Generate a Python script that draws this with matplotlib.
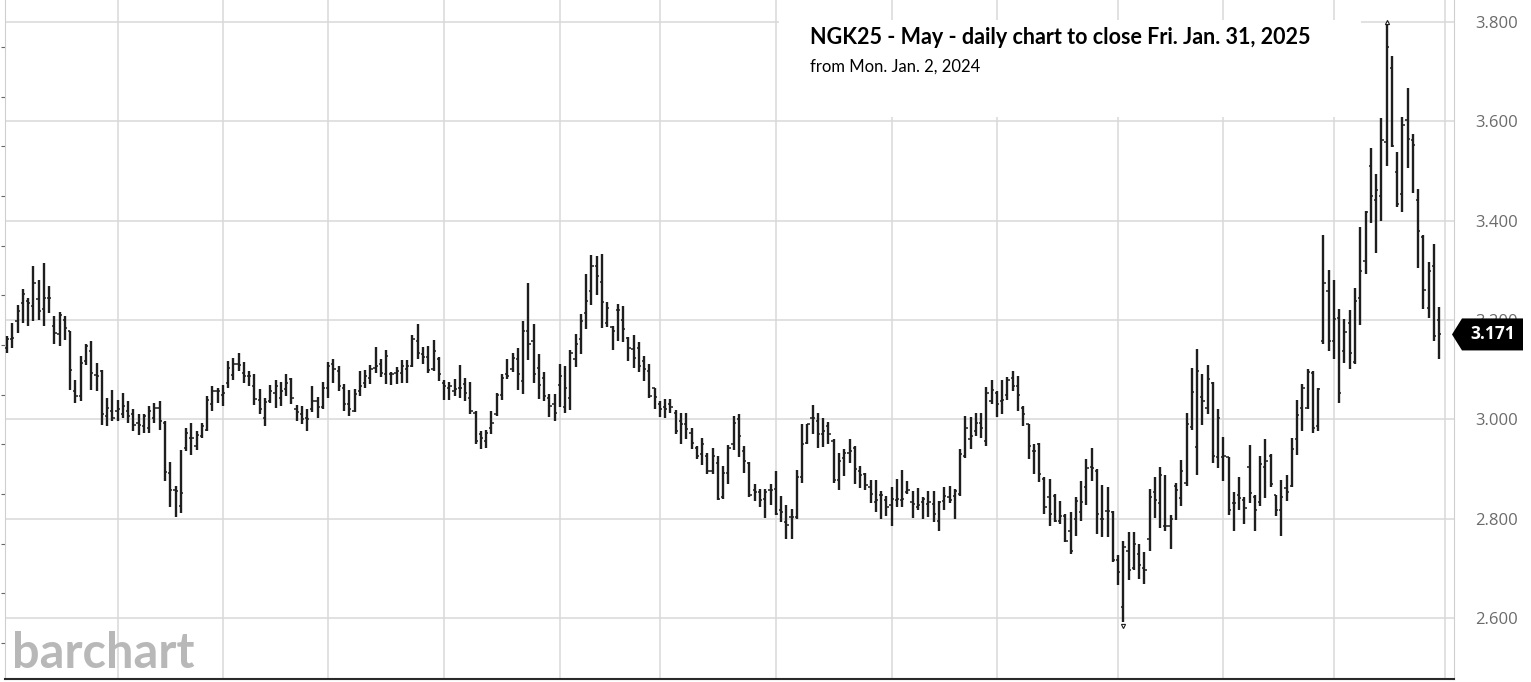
import numpy as np
import matplotlib
matplotlib.use("Agg")
import matplotlib.pyplot as plt
from matplotlib.patches import Polygon, Rectangle
from matplotlib.transforms import IdentityTransform
from matplotlib.ticker import FixedLocator

# NGK25 daily OHLC, Jan 2 2024 .. Jan 31 2025 (one row per month in each list)
opens = [
    3.144, 3.161, 3.198, 3.235, 3.238, 3.228, 3.242, 3.222, 3.245, 3.188, 3.171, 3.201, 3.178, 3.057, 3.047, 3.117, 3.137, 3.090, 3.097, 3.006, 3.016,
    3.016, 3.010, 3.016, 3.010, 2.993, 2.986, 2.983, 3.003, 3.023, 2.993, 2.892, 2.858, 2.825, 2.942, 2.962, 2.946, 2.966, 2.979, 3.030, 3.057,
    3.050, 3.073, 3.090, 3.111, 3.094, 3.088, 3.067, 3.040, 3.003, 3.037, 3.054, 3.044, 3.061, 3.081, 3.020, 3.010, 3.003, 3.020, 3.037, 3.024,
    3.064, 3.111, 3.098, 3.064, 3.030, 3.017, 3.057, 3.074, 3.084, 3.104, 3.111, 3.091, 3.091, 3.094, 3.094, 3.101, 3.108, 3.158, 3.131, 3.125, 3.101, 3.121,
    3.074, 3.064, 3.057, 3.064, 3.071, 3.044, 3.013, 2.970, 2.956, 2.983, 3.010, 3.049, 3.091, 3.101, 3.121, 3.077, 3.178, 3.158, 3.104, 3.084, 3.044, 3.030,
    3.069, 3.024, 3.044, 3.121, 3.161, 3.215, 3.258, 3.309, 3.277, 3.195, 3.185, 3.221, 3.201, 3.164, 3.141, 3.144, 3.117, 3.097, 3.064,
    3.030, 3.024, 3.030, 3.013, 2.997, 2.990, 2.973, 2.943, 2.930, 2.927, 2.897, 2.913, 2.843, 2.893, 2.950, 3.000, 2.937, 2.913, 2.857, 2.853, 2.840, 2.857,
    2.860, 2.817, 2.793, 2.803, 2.803, 2.883, 2.953, 3.003, 2.997, 2.970, 2.987, 2.957, 2.877, 2.923, 2.933, 2.943, 2.897, 2.890, 2.863, 2.833, 2.847, 2.837,
    2.827, 2.837, 2.837, 2.853, 2.833, 2.823, 2.833, 2.830, 2.830, 2.796, 2.836, 2.843, 2.846, 2.850, 2.926, 2.960, 2.977, 2.993, 2.957, 3.037,
    3.053, 3.037, 3.050, 3.084, 3.067, 3.023, 2.990, 2.937, 2.950, 2.880, 2.843, 2.846, 2.796, 2.806, 2.776, 2.800, 2.813, 2.863, 2.905, 2.896, 2.800, 2.816, 2.813,
    2.716, 2.623, 2.736, 2.700, 2.729, 2.700, 2.760, 2.854, 2.831, 2.785, 2.785, 2.866, 2.841, 2.871, 2.985, 2.945, 3.046, 3.022, 3.073, 2.924,
    2.924, 2.924, 2.831, 2.848, 2.838, 2.905, 2.844, 2.834, 2.904, 2.927, 2.848, 2.818, 2.861, 2.865, 2.960, 3.023, 3.023, 3.093, 2.987, 3.157, 3.259,
    3.157, 3.205, 3.138, 3.195, 3.116, 3.245, 3.319, 3.511, 3.442, 3.449, 3.558, 3.708, 3.498, 3.454, 3.603, 3.562, 3.442, 3.368, 3.225, 3.309, 3.200,
]
highs = [
    3.168, 3.195, 3.230, 3.262, 3.245, 3.309, 3.280, 3.314, 3.269, 3.208, 3.217, 3.209, 3.178, 3.080, 3.127, 3.151, 3.158, 3.114, 3.100, 3.043, 3.060,
    3.040, 3.053, 3.036, 3.020, 3.010, 3.011, 3.026, 3.033, 3.036, 2.996, 2.915, 2.865, 2.939, 2.983, 2.993, 2.976, 2.993, 3.047, 3.067, 3.063,
    3.070, 3.117, 3.124, 3.133, 3.115, 3.098, 3.092, 3.061, 3.043, 3.069, 3.079, 3.076, 3.092, 3.084, 3.029, 3.027, 3.020, 3.067, 3.045, 3.076,
    3.115, 3.121, 3.108, 3.072, 3.059, 3.061, 3.098, 3.099, 3.110, 3.145, 3.121, 3.139, 3.096, 3.106, 3.119, 3.119, 3.170, 3.191, 3.145, 3.148, 3.160, 3.126,
    3.079, 3.076, 3.081, 3.110, 3.084, 3.076, 3.017, 2.977, 2.978, 3.017, 3.054, 3.092, 3.121, 3.134, 3.144, 3.198, 3.275, 3.191, 3.131, 3.096, 3.052, 3.052,
    3.112, 3.107, 3.139, 3.172, 3.213, 3.293, 3.331, 3.329, 3.332, 3.237, 3.188, 3.232, 3.228, 3.166, 3.169, 3.156, 3.128, 3.112, 3.064,
    3.037, 3.042, 3.042, 3.018, 3.013, 3.013, 2.983, 2.947, 2.962, 2.933, 2.942, 2.927, 2.907, 2.949, 3.007, 3.011, 2.947, 2.915, 2.869, 2.860, 2.860, 2.869,
    2.896, 2.845, 2.827, 2.820, 2.898, 2.990, 2.991, 3.029, 3.013, 3.003, 2.995, 2.960, 2.933, 2.940, 2.960, 2.947, 2.907, 2.893, 2.878, 2.878, 2.855, 2.845,
    2.863, 2.880, 2.898, 2.875, 2.855, 2.862, 2.843, 2.856, 2.856, 2.836, 2.864, 2.866, 2.860, 2.940, 3.007, 3.005, 3.013, 3.013, 3.065, 3.080,
    3.057, 3.080, 3.085, 3.097, 3.087, 3.027, 2.990, 2.950, 2.953, 2.883, 2.880, 2.850, 2.835, 2.810, 2.813, 2.843, 2.875, 2.920, 2.942, 2.900, 2.868, 2.864, 2.815,
    2.726, 2.756, 2.773, 2.773, 2.749, 2.733, 2.860, 2.883, 2.905, 2.887, 2.808, 2.872, 2.918, 3.013, 3.104, 3.141, 3.091, 3.109, 3.075, 3.020,
    2.965, 2.925, 2.854, 2.884, 2.844, 2.949, 2.848, 2.927, 2.960, 2.930, 2.848, 2.878, 2.887, 2.962, 3.040, 3.071, 3.101, 3.097, 3.064, 3.372, 3.301,
    3.280, 3.223, 3.202, 3.220, 3.264, 3.388, 3.419, 3.547, 3.494, 3.606, 3.795, 3.731, 3.538, 3.608, 3.668, 3.574, 3.464, 3.372, 3.316, 3.354, 3.227,
]
lows = [
    3.134, 3.144, 3.174, 3.195, 3.188, 3.198, 3.201, 3.188, 3.215, 3.151, 3.148, 3.159, 3.060, 3.033, 3.036, 3.110, 3.060, 3.057, 2.989, 2.986, 2.996,
    2.996, 3.003, 2.993, 2.976, 2.969, 2.973, 2.973, 2.993, 2.979, 2.875, 2.824, 2.804, 2.811, 2.936, 2.929, 2.939, 2.962, 2.976, 3.016, 3.033,
    3.026, 3.063, 3.080, 3.097, 3.074, 3.067, 3.029, 3.010, 2.987, 3.032, 3.022, 3.027, 3.047, 3.030, 2.997, 2.990, 2.977, 3.014, 3.003, 3.020,
    3.044, 3.074, 3.057, 3.017, 3.007, 3.014, 3.047, 3.064, 3.071, 3.094, 3.086, 3.071, 3.069, 3.072, 3.074, 3.074, 3.106, 3.121, 3.111, 3.094, 3.098, 3.078,
    3.038, 3.038, 3.047, 3.043, 3.037, 3.011, 2.950, 2.940, 2.943, 2.971, 3.007, 3.040, 3.081, 3.096, 3.060, 3.052, 3.119, 3.074, 3.042, 3.036, 3.005, 2.997,
    3.025, 3.013, 3.018, 3.105, 3.132, 3.181, 3.230, 3.250, 3.183, 3.186, 3.139, 3.158, 3.156, 3.117, 3.103, 3.096, 3.077, 3.044, 3.020,
    3.005, 3.003, 3.013, 2.970, 2.950, 2.960, 2.940, 2.920, 2.909, 2.891, 2.890, 2.837, 2.840, 2.870, 2.938, 2.925, 2.893, 2.843, 2.835, 2.823, 2.802, 2.827,
    2.807, 2.793, 2.760, 2.760, 2.800, 2.871, 2.951, 2.970, 2.943, 2.945, 2.951, 2.871, 2.858, 2.885, 2.913, 2.869, 2.862, 2.857, 2.831, 2.813, 2.800, 2.805,
    2.785, 2.823, 2.823, 2.849, 2.802, 2.817, 2.800, 2.804, 2.793, 2.776, 2.818, 2.831, 2.800, 2.846, 2.923, 2.940, 2.967, 2.963, 2.947, 3.030,
    3.005, 3.010, 3.038, 3.057, 3.017, 2.987, 2.920, 2.890, 2.873, 2.810, 2.786, 2.793, 2.790, 2.753, 2.729, 2.766, 2.796, 2.828, 2.875, 2.770, 2.763, 2.764, 2.713,
    2.666, 2.592, 2.676, 2.696, 2.679, 2.668, 2.736, 2.801, 2.782, 2.775, 2.739, 2.797, 2.826, 2.866, 2.978, 2.889, 2.989, 3.011, 2.912, 2.903,
    2.876, 2.808, 2.775, 2.818, 2.790, 2.832, 2.775, 2.825, 2.841, 2.864, 2.805, 2.765, 2.836, 2.864, 2.929, 2.977, 3.020, 2.972, 2.976, 3.151, 3.138,
    3.121, 3.033, 3.114, 3.101, 3.112, 3.190, 3.293, 3.395, 3.334, 3.399, 3.511, 3.548, 3.427, 3.417, 3.507, 3.455, 3.305, 3.222, 3.205, 3.158, 3.121,
]
closes = [
    3.161, 3.164, 3.218, 3.252, 3.235, 3.275, 3.218, 3.245, 3.245, 3.174, 3.211, 3.183, 3.100, 3.047, 3.114, 3.148, 3.094, 3.087, 3.010, 3.023, 3.003,
    3.020, 3.026, 3.006, 2.989, 2.989, 3.006, 3.016, 3.023, 2.996, 2.895, 2.858, 2.855, 2.851, 2.972, 2.962, 2.969, 2.986, 3.040, 3.057, 3.057,
    3.053, 3.104, 3.111, 3.110, 3.088, 3.088, 3.042, 3.020, 3.034, 3.057, 3.067, 3.057, 3.074, 3.044, 3.014, 3.000, 3.000, 3.037, 3.024, 3.064,
    3.108, 3.101, 3.067, 3.030, 3.020, 3.051, 3.067, 3.088, 3.101, 3.108, 3.094, 3.128, 3.091, 3.098, 3.108, 3.108, 3.162, 3.133, 3.125, 3.099, 3.138, 3.091,
    3.067, 3.067, 3.061, 3.064, 3.054, 3.017, 2.956, 2.963, 2.973, 2.993, 3.049, 3.084, 3.087, 3.124, 3.091, 3.178, 3.151, 3.091, 3.070, 3.047, 3.027, 3.013,
    3.087, 3.064, 3.134, 3.151, 3.198, 3.238, 3.309, 3.289, 3.237, 3.225, 3.178, 3.221, 3.181, 3.144, 3.124, 3.107, 3.101, 3.047, 3.045,
    3.020, 3.020, 3.024, 2.977, 2.990, 2.980, 2.953, 2.927, 2.950, 2.897, 2.927, 2.840, 2.893, 2.943, 2.993, 2.967, 2.917, 2.847, 2.853, 2.837, 2.853, 2.857,
    2.809, 2.813, 2.787, 2.803, 2.883, 2.950, 2.990, 3.003, 2.970, 2.977, 2.970, 2.877, 2.917, 2.933, 2.937, 2.900, 2.887, 2.867, 2.850, 2.837, 2.847, 2.823,
    2.840, 2.840, 2.840, 2.857, 2.830, 2.827, 2.840, 2.833, 2.810, 2.833, 2.846, 2.838, 2.856, 2.930, 2.983, 2.967, 2.993, 2.983, 3.053, 3.060,
    3.030, 3.038, 3.080, 3.067, 3.050, 3.010, 2.947, 2.937, 2.890, 2.823, 2.810, 2.796, 2.806, 2.756, 2.736, 2.836, 2.833, 2.903, 2.903, 2.810, 2.800, 2.816, 2.716,
    2.693, 2.743, 2.696, 2.750, 2.706, 2.696, 2.843, 2.838, 2.887, 2.785, 2.799, 2.858, 2.897, 2.991, 3.056, 3.097, 3.036, 3.081, 2.927, 3.003,
    2.927, 2.818, 2.831, 2.841, 2.821, 2.851, 2.818, 2.911, 2.916, 2.870, 2.818, 2.844, 2.854, 2.940, 3.009, 3.063, 3.096, 2.983, 3.062, 3.275, 3.157,
    3.202, 3.054, 3.175, 3.134, 3.239, 3.299, 3.417, 3.449, 3.462, 3.562, 3.750, 3.550, 3.434, 3.592, 3.565, 3.552, 3.380, 3.260, 3.299, 3.168, 3.171,
]

# first trading day of each month (bar index), Feb 2024 .. Feb 2025
month_starts = [21, 41, 61, 83, 105, 124, 146, 168, 188, 211, 231, 252, 273]
price_ticks = [2.6, 2.8, 3.0, 3.2, 3.4, 3.6, 3.8]

title = "NGK25 - May - daily chart to close Fri. Jan. 31, 2025"
subtitle = "from Mon. Jan. 2, 2024"

o = np.array(opens)
h = np.array(highs)
l = np.array(lows)
c = np.array(closes)
x = np.arange(len(c))

W, H = 1531, 682
fig = plt.figure(figsize=(W / 100, H / 100), dpi=100)
ax = fig.add_axes([5 / W, 3 / H, 1449 / W, 679 / H])
ax.set_xlim(-0.38, 274.8)
ax.set_ylim(2.4773, 3.8443)

grid = "#d9d9d9"
for p in price_ticks:
    ax.axhline(p, color=grid, lw=1.1, zorder=0)
for m in month_starts:
    ax.axvline(m, color=grid, lw=1.1, zorder=0)

bar_col = "#1e1e1e"
ax.vlines(x, l, h, color=bar_col, lw=1.7, zorder=3)
ax.hlines(o, x - 0.42, x, color=bar_col, lw=1.1, zorder=3)
ax.hlines(c, x, x + 0.42, color=bar_col, lw=1.1, zorder=3)

# little brackets at the period high / low
ih, il = int(np.argmax(h)), int(np.argmin(l))
ax.plot(ih, h[ih] + 0.006, marker="^", ms=3, mfc="none", mec=bar_col, mew=0.8, zorder=3)
ax.plot(il, l[il] - 0.008, marker="v", ms=3, mfc="none", mec=bar_col, mew=0.8, zorder=3)

ax.spines["top"].set_visible(False)
ax.spines["left"].set_color("#cfcfcf")
ax.spines["right"].set_color("#cfcfcf")
ax.spines["bottom"].set_color("#2a2a2a")
ax.spines["bottom"].set_linewidth(1.5)

ax.set_xticks([])
ax.yaxis.tick_right()
ax.set_yticks(price_ticks)
ax.set_yticklabels([f"{p:.3f}" for p in price_ticks])
ax.tick_params(axis="y", which="major", length=0, pad=15, labelsize=12,
               labelcolor="#6b6b6b")
for t in ax.get_yticklabels():
    t.set_fontfamily("Open Sans")
ax.yaxis.set_minor_locator(FixedLocator(np.arange(2.55, 3.8, 0.1)))
ax.tick_params(axis="y", which="minor", left=True, right=False, length=3,
               color="#666666", width=0.8)

# white panel behind the caption
fig.add_artist(Rectangle((779 / W, 1 - 117 / H), 582 / W, 97 / H,
                         transform=fig.transFigure, fc="white", ec="none", zorder=1))
fig.text(810 / W, 1 - 44 / H, title, fontsize=15.5, fontweight="bold",
         family="Lato", color="black", va="baseline", zorder=2)
fig.text(810 / W, 1 - 72 / H, subtitle, fontsize=12, family="Lato",
         color="black", va="baseline", zorder=2)

fig.text(12 / W, 1 - 668 / H, "barchart", fontsize=35, fontweight="bold",
         family="Lato", color="#b8b8b8", va="baseline", zorder=2)

# last price flag
xr, yc = ax.transData.transform((ax.get_xlim()[1], c[-1]))
pts = [(xr - 2, yc), (xr + 8, yc + 16), (xr + 69, yc + 16),
       (xr + 69, yc - 16), (xr + 8, yc - 16)]
fig.add_artist(Polygon(pts, closed=True, transform=IdentityTransform(),
                       fc="black", ec="none", zorder=4))
fig.text(xr + 39, yc, f"{c[-1]:.3f}", transform=IdentityTransform(),
         ha="center", va="center", color="white", fontsize=12.5,
         fontweight="bold", family="Open Sans", zorder=5)

fig.savefig("out.png", dpi=100)
